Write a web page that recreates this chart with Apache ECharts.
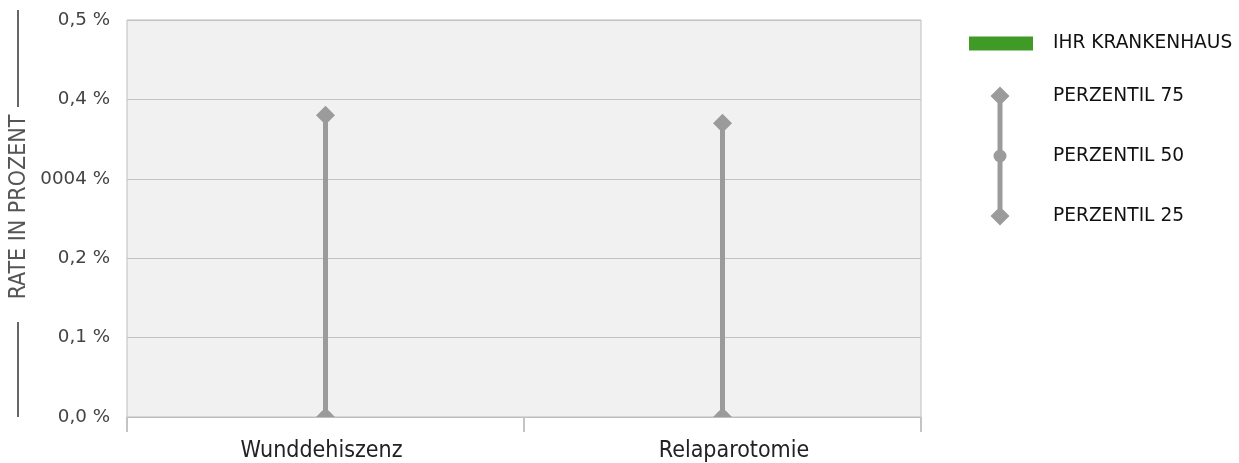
<!DOCTYPE html>
<html>
<head>
<meta charset="utf-8">
<script src="https://cdn.jsdelivr.net/npm/echarts@6/dist/echarts.min.js"></script>
<style>
html,body{margin:0;padding:0;background:#fff;}
#chart{width:1239px;height:463px;}
</style>
</head>
<body>
<div id="chart"></div>
<script>
const categories = ['Wunddehiszenz', 'Relaparotomie'];
const hospitalValues = [null, null];
const p25Values = [0, 0];
const p50Values = [0, 0];
const p75Values = [0.38, 0.37];
const yTickLabels = ['0,0 %', '0,1 %', '0,2 %', '0004 %', '0,4 %', '0,5 %'];
const axisTitle = 'RATE IN PROZENT';

const GRAY = '#9b9b9b';
const GREEN = '#3f9a26';
const R = 9.5;   // diamond half size
const LW = 5;    // range line width

function diamond(c, style) {
  return {type: 'polygon', shape: {points: [[c[0], c[1] - R], [c[0] + R, c[1]], [c[0], c[1] + R], [c[0] - R, c[1]]]}, style: style};
}
function rangeItem(params, api, withDiamondAt) {
  const a = api.coord([api.value(0), api.value(1)]);
  const b = api.coord([api.value(0), api.value(2)]);
  const style = {fill: GRAY};
  const y0 = Math.min(a[1], b[1]), y1 = Math.max(a[1], b[1]);
  const tip = withDiamondAt === 'b' ? b : a;
  return {type: 'group', children: [
    {type: 'rect', shape: {x: a[0] - LW / 2, y: y0, width: LW, height: y1 - y0}, style: style},
    diamond(tip, style)
  ]};
}

const chart = echarts.init(document.getElementById('chart'), null, {renderer: 'canvas'});
chart.setOption({
  animation: false,
  textStyle: {fontFamily: 'DejaVu Sans'},
  grid: {left: 127, right: 318, top: 20, bottom: 46, show: true, backgroundColor: '#f1f1f1', borderColor: '#bdbdbd', borderWidth: 1},
  legend: [{
    orient: 'vertical', left: 969, top: 34, padding: 0, itemGap: 0,
    itemWidth: 79, itemHeight: 14, selectedMode: false,
    itemStyle: {borderWidth: 0},
    textStyle: {fontSize: 18.6, color: '#111', fontFamily: 'DejaVu Sans'},
    data: [{name: 'IHR KRANKENHAUS', icon: 'path://M0 0L64 0L64 14L0 14Z M79 14'}]
  }, {
    orient: 'vertical', left: 969, top: 66, padding: 0, itemGap: 0,
    itemWidth: 79, itemHeight: 60, selectedMode: false,
    itemStyle: {borderWidth: 0},
    textStyle: {fontSize: 18.6, color: '#111', fontFamily: 'DejaVu Sans'},
    data: [
      {name: 'PERZENTIL 75', icon: 'path://M0 0 M31 20.5L40.5 30L31 39.5L21.5 30Z M28.5 30L33.5 30L33.5 60L28.5 60Z M79 60'},
      {name: 'PERZENTIL 50', icon: 'path://M0 0 M24.5 30A6.5 6.5 0 1 1 37.5 30A6.5 6.5 0 1 1 24.5 30Z M28.5 0L33.5 0L33.5 60L28.5 60Z M79 60'},
      {name: 'PERZENTIL 25', icon: 'path://M0 0 M31 20.5L40.5 30L31 39.5L21.5 30Z M28.5 0L33.5 0L33.5 30L28.5 30Z M79 60'}
    ]
  }],
  xAxis: {
    type: 'category', data: categories, boundaryGap: true,
    axisLine: {lineStyle: {color: '#bdbdbd', width: 1}},
    axisTick: {show: true, length: 15, lineStyle: {color: '#c4c4c4', width: 2}},
    axisLabel: {
      fontSize: 23, fontFamily: 'DejaVu Sans Condensed', color: '#222', margin: 23,
      formatter: function (v, i) { return '{c' + i + '|' + v + '}'; },
      rich: {
        c0: {fontSize: 23, fontFamily: 'DejaVu Sans Condensed', color: '#222', padding: [0, 8, 0, 0]},
        c1: {fontSize: 23, fontFamily: 'DejaVu Sans Condensed', color: '#222', padding: [0, 0, 0, 23]}
      }
    },
    splitLine: {show: false}
  },
  yAxis: {
    type: 'value', min: 0, max: 0.5, interval: 0.1,
    axisLine: {show: false}, axisTick: {show: false},
    axisLabel: {fontSize: 18.3, color: '#444', margin: 17, formatter: function (v, i) { return yTickLabels[i]; }},
    splitLine: {lineStyle: {color: '#c3c3c3', width: 1}}
  },
  graphic: [
    {type: 'text', x: 19, y: 207, rotation: Math.PI / 2, style: {text: axisTitle, align: 'center', verticalAlign: 'middle', font: '23px "DejaVu Sans Condensed"', fill: '#555'}},
    {type: 'line', shape: {x1: 18, y1: 10, x2: 18, y2: 107}, style: {stroke: '#666', lineWidth: 2}},
    {type: 'line', shape: {x1: 18, y1: 322, x2: 18, y2: 417}, style: {stroke: '#666', lineWidth: 2}}
  ],
  series: [
    {name: 'IHR KRANKENHAUS', type: 'bar', data: hospitalValues, itemStyle: {color: GREEN}, barWidth: 64},
    {name: 'PERZENTIL 75', type: 'custom', clip: true, itemStyle: {color: GRAY}, encode: {x: 0, y: [1, 2]},
      data: categories.map(function (c, i) { return [i, p50Values[i], p75Values[i]]; }),
      renderItem: function (p, api) { return rangeItem(p, api, 'b'); }},
    {name: 'PERZENTIL 50', type: 'custom', clip: true, itemStyle: {color: GRAY}, encode: {x: 0, y: 1},
      data: categories.map(function (c, i) { return [i, p50Values[i]]; }),
      renderItem: function (p, api) {
        const c = api.coord([api.value(0), api.value(1)]);
        return {type: 'circle', shape: {cx: c[0], cy: c[1], r: 6.5}, style: {fill: GRAY}};
      }},
    {name: 'PERZENTIL 25', type: 'custom', clip: true, itemStyle: {color: GRAY}, encode: {x: 0, y: [1, 2]},
      data: categories.map(function (c, i) { return [i, p25Values[i], p50Values[i]]; }),
      renderItem: function (p, api) { return rangeItem(p, api, 'a'); }}
  ]
});
</script>
</body>
</html>
